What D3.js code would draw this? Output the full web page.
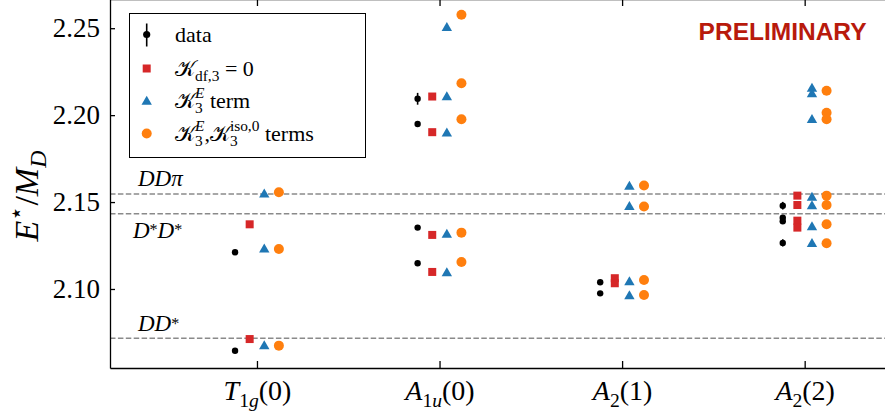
<!DOCTYPE html>
<html>
<head>
<meta charset="utf-8">
<script src="https://cdn.jsdelivr.net/npm/d3@7"></script>
<style>
  body { margin: 0; background: #fff; }
  svg { display: block; }
  text { white-space: pre; }
</style>
</head>
<body>
<svg id="chart" width="885" height="414"></svg>
<script>
// irreps on the x axis, with their math labels
const categories = ['T1g(0)', 'A1u(0)', 'A2(1)', 'A2(2)'];
const tickLabelParts = [
  [{ t: 'T', i: 1 }, { t: '1', sub: 1 }, { t: 'g', sub: 1, i: 1 }, { t: '(0)' }],
  [{ t: 'A', i: 1 }, { t: '1', sub: 1 }, { t: 'u', sub: 1, i: 1 }, { t: '(0)' }],
  [{ t: 'A', i: 1 }, { t: '2', sub: 1 }, { t: '(1)' }],
  [{ t: 'A', i: 1 }, { t: '2', sub: 1 }, { t: '(2)' }]
];
const yTicks = [2.10, 2.15, 2.20, 2.25];

// lattice levels (black, with errors)
const dataVals = [
  [2.1211, 2.0645],
  [2.2094, 2.1949, 2.1353, 2.1148],
  [2.1039, 2.0975],
  [2.1479, 2.1410, 2.1390, 2.1265]
];
const dataErrs = [
  [0.0006, 0.0006],
  [0.0034, 0.0008, 0.0006, 0.0006],
  [0.0006, 0.0006],
  [0.0022, 0.0015, 0.0015, 0.0021]
];
// fits
const kdf3Vals = [
  [2.1372, 2.0712],
  [2.2107, 2.1902, 2.1311, 2.1098],
  [2.1062, 2.1033],
  [2.1537, 2.1483, 2.1393, 2.1353]
];
const k3eVals = [
  [2.1551, 2.1234, 2.0678],
  [2.2508, 2.2110, 2.1902, 2.1320, 2.1098],
  [2.1595, 2.1479, 2.1046, 2.0965],
  [2.2159, 2.2128, 2.1980, 2.1532, 2.1483, 2.1362, 2.1266]
];
const k3eIsoVals = [
  [2.1556, 2.1230, 2.0674],
  [2.2577, 2.2183, 2.1976, 2.1324, 2.1155],
  [2.1595, 2.1474, 2.1052, 2.0965],
  [2.2140, 2.2014, 2.1976, 2.1537, 2.1483, 2.1372, 2.1263]
];

// thresholds
const thresholdVals = [2.1547, 2.1433, 2.0716];
const thresholdLabels = [
  [{ t: 'DDπ', i: 1 }],
  [{ t: 'D', i: 1 }, { t: '*', star: 1 }, { t: 'D', i: 1 }, { t: '*', star: 1 }],
  [{ t: 'DD', i: 1 }, { t: '*', star: 1 }]
];

const legendLabels = [
  [{ t: 'data' }],
  [{ t: '𝒦', k: 1 }, { t: 'df,3', sub: 1 }, { t: ' = 0' }],
  [{ t: '𝒦', k: 1 }, { t: '3', sub: 1 }, { t: 'E', sup: 1, i: 1, stack: 1 }, { t: ' term' }],
  [{ t: '𝒦', k: 1 }, { t: '3', sub: 1 }, { t: 'E', sup: 1, i: 1, stack: 1 }, { t: ',' },
   { t: '𝒦', k: 1 }, { t: '3', sub: 1 }, { t: 'iso,0', sup: 1, stack: 1 }, { t: ' terms' }]
];

const serif = "'Liberation Serif', 'DejaVu Serif', serif";
const svg = d3.select('#chart');

const x = d3.scaleLinear().domain([-0.805, 3.44]).range([110, 885]);
const y = d3.scaleLinear().domain([2.05455, 2.2668]).range([368, -1]);

// text with sub/superscripts built from tspans
function rich(text, parts, size) {
  let shift = 0;
  let prev = null;
  parts.forEach(p => {
    const small = p.sub || p.sup || p.star;
    let s = 0;
    if (p.sub) s = size * 0.24;
    if (p.sup) s = -size * 0.42;
    if (p.star) s = -size * 0.12;
    const ts = text.append('tspan')
      .text(p.t)
      .attr('font-size', small ? size * 0.7 : size)
      .attr('font-style', p.i ? 'italic' : 'normal');
    if (p.k) ts.attr('font-family', "'DejaVu Serif', 'DejaVu Sans', serif");
    if (s !== shift) ts.attr('dy', s - shift);
    if (p.stack && prev) ts.attr('dx', -prev.node().getComputedTextLength());
    shift = s;
    prev = ts;
  });
}

// thresholds
const thrDy = [-8, 24, -7];
svg.append('g').selectAll('line')
  .data(thresholdVals)
  .join('line')
  .attr('x1', x.range()[0])
  .attr('x2', x.range()[1])
  .attr('y1', d => y(d))
  .attr('y2', d => y(d))
  .attr('stroke', '#8a8a8a')
  .attr('stroke-width', 1.5)
  .attr('stroke-dasharray', '5.5,2.4');

thresholdVals.forEach((v, i) => {
  const t = svg.append('text')
    .attr('x', x(-0.652) - (i === 1 ? 5 : 0))
    .attr('y', y(v) + thrDy[i])
    .attr('font-family', serif)
    .attr('font-size', 23);
  rich(t, thresholdLabels[i], 23);
});

// axes
const yAxis = svg.append('g')
  .attr('transform', `translate(${x.range()[0]},0)`)
  .call(d3.axisLeft(y).tickValues(yTicks).tickFormat(d3.format('.2f'))
    .tickSize(-5).tickSizeOuter(0).tickPadding(10));
yAxis.attr('font-family', serif).attr('font-size', 27);

const xAxis = svg.append('g')
  .attr('transform', `translate(0,${y.range()[0]})`)
  .call(d3.axisBottom(x).tickValues([0, 1, 2, 3]).tickFormat('')
    .tickSize(-7).tickSizeOuter(0));
xAxis.selectAll('.tick text').remove();
xAxis.selectAll('.tick').each(function (d) {
  const t = d3.select(this).append('text')
    .attr('y', 32)
    .attr('fill', '#000')
    .attr('text-anchor', 'middle')
    .attr('font-family', serif)
    .attr('font-size', 28);
  rich(t, tickLabelParts[d], 28);
});

svg.append('g')
  .attr('transform', `translate(0,${y.range()[1]})`)
  .call(d3.axisTop(x).tickValues([0, 1, 2, 3]).tickFormat('')
    .tickSize(-7).tickSizeOuter(0));

svg.selectAll('.domain, .tick line').attr('stroke', '#000').attr('stroke-width', 1.3);

// y label
const yl = svg.append('text')
  .attr('transform', 'translate(38,196) rotate(-90)')
  .attr('text-anchor', 'middle')
  .attr('font-family', serif)
  .attr('font-size', 34);
rich(yl, [{ t: 'E', i: 1 }, { t: '⋆', sup: 1 }, { t: '/' }, { t: 'M', i: 1 }, { t: 'D', sub: 1, i: 1 }], 34);

// markers
const tri = 'M0,-4.7L5.2,4.3L-5.2,4.3Z';
const series = [
  { vals: kdf3Vals, off: -0.04, draw: g => g.append('rect').attr('x', -4).attr('y', -4).attr('width', 8).attr('height', 8).attr('fill', '#d62728') },
  { vals: k3eVals, off: 0.04, draw: g => g.append('path').attr('d', tri).attr('fill', '#1f77b4') },
  { vals: k3eIsoVals, off: 0.12, draw: g => g.append('circle').attr('r', 5).attr('fill', '#ff7f0e') }
];

const marks = svg.append('g');
series.forEach(s => {
  const pts = s.vals.flatMap((arr, ci) => arr.map(v => ({ ci, v })));
  marks.append('g').selectAll('g')
    .data(pts)
    .join('g')
    .attr('transform', d => `translate(${x(d.ci + s.off)},${y(d.v)})`)
    .each(function () { s.draw(d3.select(this)); });
});

const dataPts = dataVals.flatMap((arr, ci) => arr.map((v, k) => ({ ci, v, e: dataErrs[ci][k] })));
const dg = marks.append('g').selectAll('g').data(dataPts).join('g');
dg.append('line')
  .attr('x1', d => x(d.ci - 0.12)).attr('x2', d => x(d.ci - 0.12))
  .attr('y1', d => y(d.v - d.e)).attr('y2', d => y(d.v + d.e))
  .attr('stroke', '#000').attr('stroke-width', 1.6);
dg.append('circle')
  .attr('cx', d => x(d.ci - 0.12)).attr('cy', d => y(d.v))
  .attr('r', 3.2).attr('fill', '#000');

// legend
const lg = svg.append('g');
lg.append('rect')
  .attr('x', 129.5).attr('y', 13.5).attr('width', 236).attr('height', 144)
  .attr('fill', '#fff').attr('stroke', '#000').attr('stroke-width', 1);
const rowY = [34.5, 68.5, 100.5, 133.5];
const mx = 146.7;
lg.append('line').attr('x1', mx).attr('x2', mx).attr('y1', rowY[0] - 11).attr('y2', rowY[0] + 12)
  .attr('stroke', '#000').attr('stroke-width', 1.6);
lg.append('circle').attr('cx', mx).attr('cy', rowY[0]).attr('r', 3.6).attr('fill', '#000');
series.forEach((s, i) => {
  const g = lg.append('g').attr('transform', `translate(${mx},${rowY[i + 1]})`);
  s.draw(g);
});
legendLabels.forEach((parts, i) => {
  const t = lg.append('text')
    .attr('x', 175)
    .attr('y', rowY[i] + 7)
    .attr('font-family', serif)
    .attr('font-size', 22);
  rich(t, parts, 22);
});

svg.append('text')
  .attr('x', 866.5)
  .attr('y', 40)
  .attr('text-anchor', 'end')
  .attr('font-family', "'Liberation Sans', Arial, sans-serif")
  .attr('font-weight', 'bold')
  .attr('font-size', 24.5)
  .attr('fill', '#b81a0c')
  .text('PRELIMINARY');
</script>
</body>
</html>
